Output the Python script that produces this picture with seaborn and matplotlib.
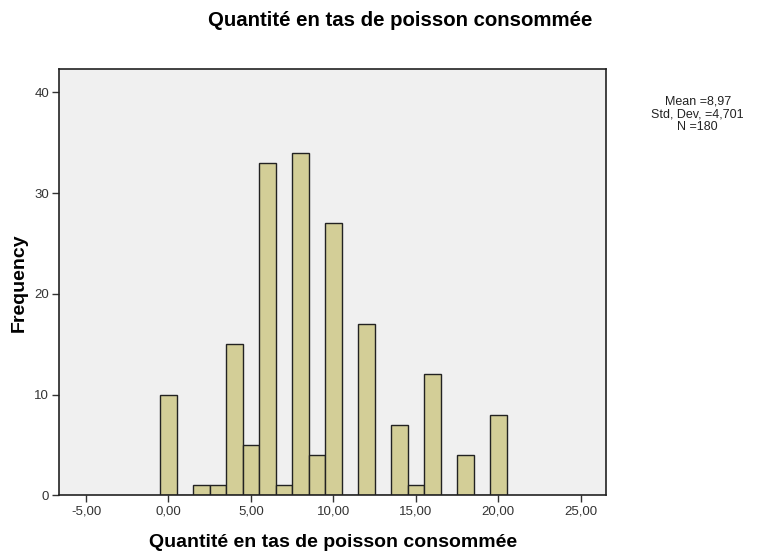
import numpy as np
import pandas as pd
import matplotlib
matplotlib.use("Agg")
import matplotlib.pyplot as plt
from matplotlib.ticker import FuncFormatter, FixedLocator
import seaborn as sns

# Observed values and how many respondents gave each one
values = [0, 2, 3, 4, 5, 6, 7, 8, 9, 10, 12, 14, 15, 16, 18, 20]
counts = [10, 1, 1, 15, 5, 33, 1, 34, 4, 27, 17, 7, 1, 12, 4, 8]

title = "Quantité en tas de poisson consommée"
x_label = "Quantité en tas de poisson consommée"
y_label = "Frequency"
x_ticks = [-5, 0, 5, 10, 15, 20, 25]
y_ticks = [0, 10, 20, 30, 40]

df = pd.DataFrame({"qte": np.repeat(values, counts)})
mean = df["qte"].mean()
sd = df["qte"].std()
n = len(df)

sns.set_style("white")
plt.rcParams["font.family"] = ["Liberation Sans", "DejaVu Sans"]
plt.rcParams["text.color"] = "black"

fig = plt.figure(figsize=(7.6, 5.51), dpi=100)
ax = fig.add_axes([0.0776, 0.1011, 0.7204, 0.7731])
ax.set_facecolor("#f0f0f0")

sns.histplot(data=df, x="qte", bins=np.arange(-0.5, 21.5, 1.0), ax=ax,
             color="#d3ce97", alpha=1.0, edgecolor="#222222", linewidth=1.0)

ax.set_xlim(-6.64, 26.56)
ax.set_ylim(0, 42.3)
ax.xaxis.set_major_locator(FixedLocator(x_ticks))
ax.yaxis.set_major_locator(FixedLocator(y_ticks))
ax.xaxis.set_major_formatter(FuncFormatter(lambda v, p: f"{v:.2f}".replace(".", ",")))
ax.yaxis.set_major_formatter(FuncFormatter(lambda v, p: f"{int(v)}"))
ax.tick_params(axis="both", which="major", direction="out", length=5, width=1,
               color="#333333", labelsize=9.5, labelcolor="#333333", pad=2,
               bottom=True, left=True)

for s in ax.spines.values():
    s.set_color("#222222")
    s.set_linewidth(1.2)
    s.set_visible(True)

ax.set_xlabel(x_label, fontsize=14, fontweight="bold", labelpad=12, color="black")
ax.set_ylabel(y_label, fontsize=14, fontweight="bold", labelpad=5, color="black")
fig.text(0.527, 0.963, title, ha="center", va="center", fontsize=14.7,
         fontweight="bold", color="black")

stats = (f"Mean ={mean:.2f}".replace(".", ",") + "\n"
         + f"Std. Dev. ={sd:.3f}".replace(".", ",") + "\n"
         + f"N ={n}")
fig.text(0.918, 0.792, stats, ha="center", va="center", fontsize=9,
         linespacing=1.08, color="#222222")

fig.savefig("out.png", dpi=100)
